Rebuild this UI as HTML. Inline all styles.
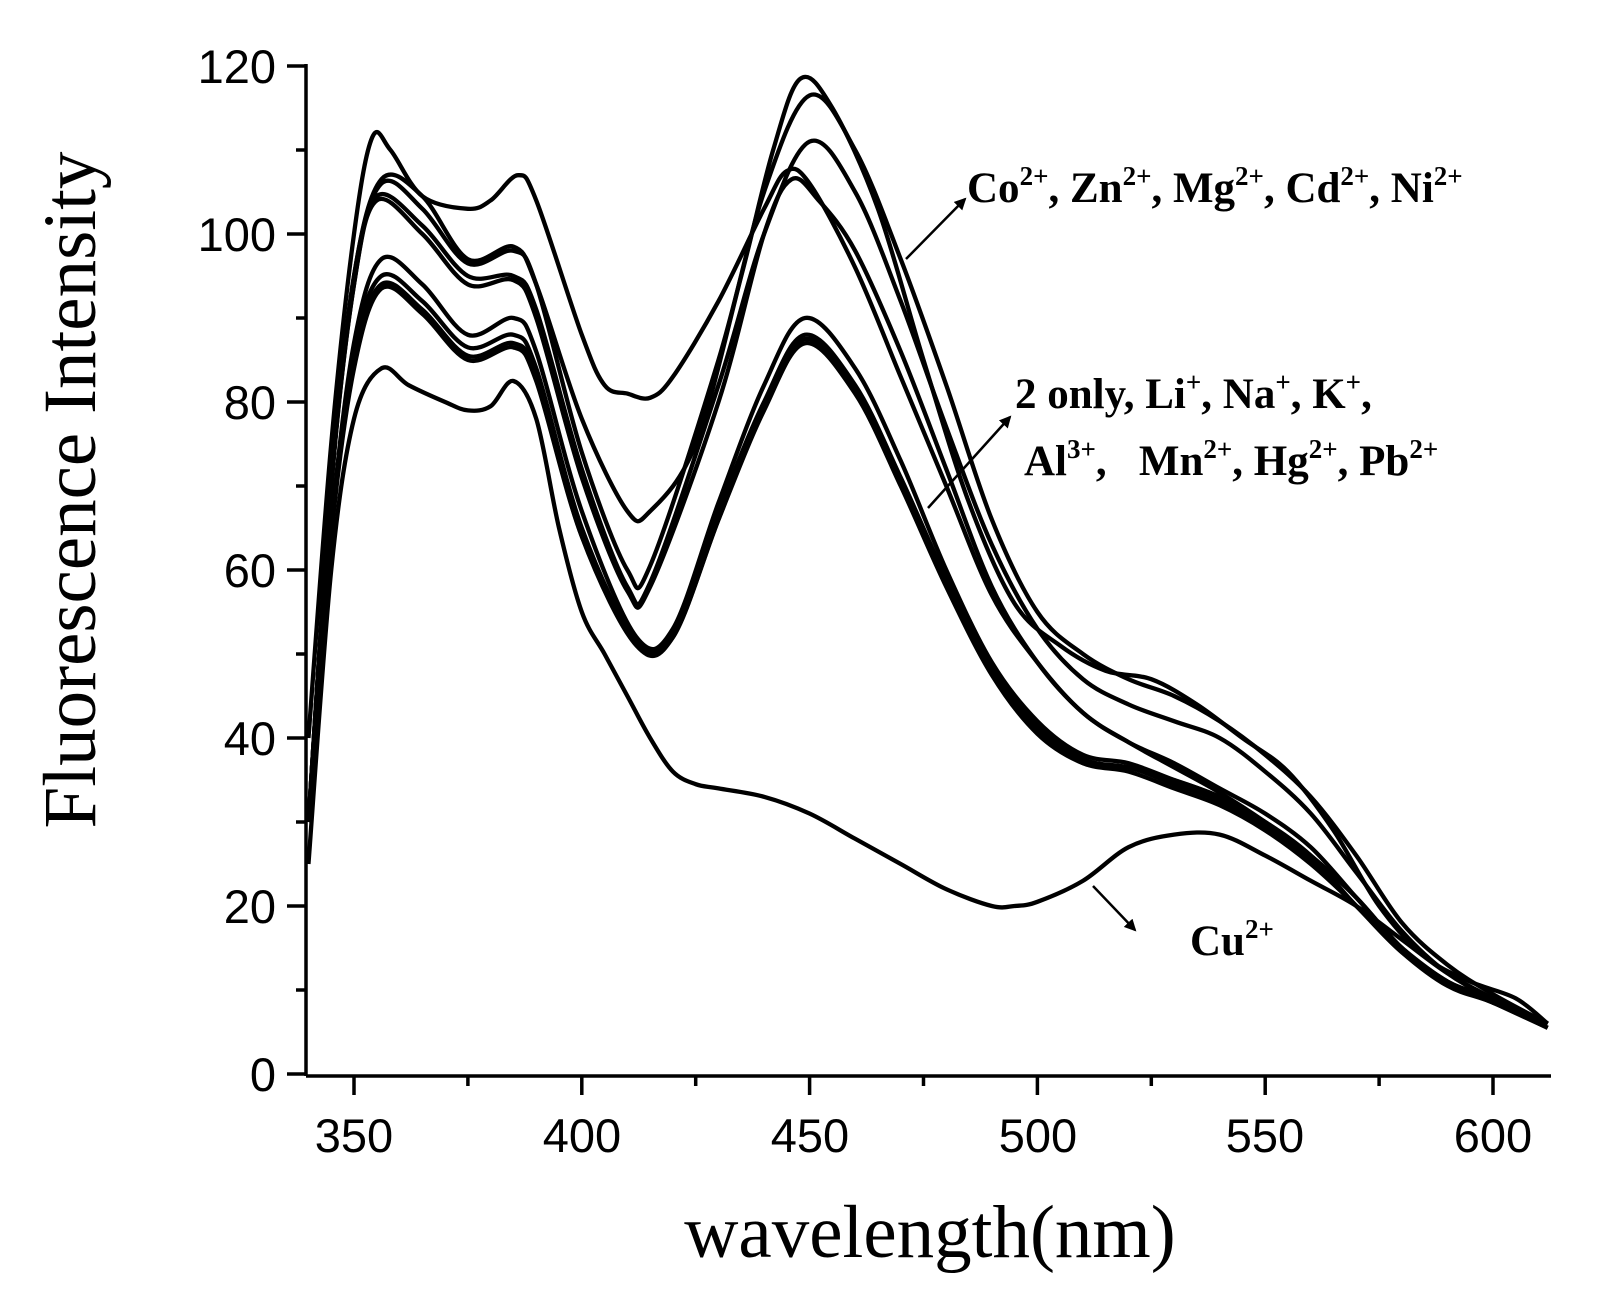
<!DOCTYPE html>
<html><head><meta charset="utf-8"><style>
html,body{margin:0;padding:0;background:#fff;}
svg{display:block;}
.t{font-family:"Liberation Sans",Arial,sans-serif;font-size:47px;fill:#000;}
.a{font-family:"Liberation Serif","Times New Roman",serif;font-weight:bold;font-size:43px;fill:#000;}
.s{font-size:27px;}
</style></head><body>
<svg id="c" width="1612" height="1312" viewBox="0 0 1612 1312" xmlns="http://www.w3.org/2000/svg">
<defs><marker id="ar" markerWidth="12" markerHeight="12" refX="10" refY="6" orient="auto" markerUnits="userSpaceOnUse"><path d="M0,0 L12,6 L0,12 Z" fill="#000"/></marker></defs>
<g id="curves" fill="none" stroke="#000" stroke-width="4.3" stroke-linejoin="round"></g>
<line x1="306" y1="64" x2="306" y2="1076" stroke="#000" stroke-width="3.5"/>
<line x1="306" y1="1076" x2="1551" y2="1076" stroke="#000" stroke-width="3.5"/>
<g id="ticks" stroke="#000" stroke-width="3.5"></g>
<g class="t" text-anchor="end">
<text x="276" y="1091">0</text><text x="276" y="923">20</text><text x="276" y="755">40</text>
<text x="276" y="587">60</text><text x="276" y="419">80</text><text x="276" y="251">100</text><text x="276" y="83">120</text>
</g>
<g class="t" text-anchor="middle">
<text x="354" y="1152">350</text><text x="582" y="1152">400</text><text x="810" y="1152">450</text>
<text x="1038" y="1152">500</text><text x="1265" y="1152">550</text><text x="1493" y="1152">600</text>
</g>
<text x="930" y="1257" text-anchor="middle" style="font-family:'Liberation Serif',serif;font-size:75px">wavelength(nm)</text>
<text transform="translate(95,490) rotate(-90)" text-anchor="middle" style="font-family:'Liberation Serif',serif;font-size:75px">Fluorescence Intensity</text>
<text class="a" x="967" y="202">Co<tspan class="s" dy="-17">2+</tspan><tspan dy="17">, Zn</tspan><tspan class="s" dy="-17">2+</tspan><tspan dy="17">, Mg</tspan><tspan class="s" dy="-17">2+</tspan><tspan dy="17">, Cd</tspan><tspan class="s" dy="-17">2+</tspan><tspan dy="17">, Ni</tspan><tspan class="s" dy="-17">2+</tspan></text>
<text class="a" x="1015" y="408">2 only, Li<tspan class="s" dy="-17">+</tspan><tspan dy="17">, Na</tspan><tspan class="s" dy="-17">+</tspan><tspan dy="17">, K</tspan><tspan class="s" dy="-17">+</tspan><tspan dy="17">,</tspan></text>
<text class="a" x="1024" y="475" xml:space="preserve">Al<tspan class="s" dy="-17">3+</tspan><tspan dy="17">,   Mn</tspan><tspan class="s" dy="-17">2+</tspan><tspan dy="17">, Hg</tspan><tspan class="s" dy="-17">2+</tspan><tspan dy="17">, Pb</tspan><tspan class="s" dy="-17">2+</tspan></text>
<text class="a" x="1190" y="955">Cu<tspan class="s" dy="-17">2+</tspan></text>
<g stroke="#000" stroke-width="2.5" marker-end="url(#ar)">
<line x1="906" y1="259" x2="965" y2="199"/>
<line x1="928" y1="508" x2="1010" y2="417"/>
<line x1="1093" y1="886" x2="1135" y2="930"/>
</g>
</svg>
<script>
var X=function(w){return 354+(w-350)*4.556;}, Y=function(v){return 1074-v*8.4;};
var tk=document.getElementById('ticks'),h='';
for(var v=0;v<=120;v+=10){var L=v%20==0?19:10;h+='<line x1="'+(306-L)+'" y1="'+Y(v)+'" x2="306" y2="'+Y(v)+'"/>';}
for(var w=350;w<=600;w+=25){var L=w%50==0?19:10;h+='<line x1="'+X(w)+'" y1="1076" x2="'+X(w)+'" y2="'+(1076+L)+'"/>';}
tk.innerHTML=h;
var C=[
[340,40,345,75,350,100,354,111.5,358,110,365,104.5,375,103,380,104,386,107,390,104,400,88,405,82,410,81,415,80.5,420,83,430,92,440,103,445,107.5,450,106,460,96,470,83,480,70,490,57,500,49,510,43,520,39.5,530,36.5,540,33.5,550,30,560,26,570,21,580,15,590,11,600,8.5,605,7.5,612,5.5],
[340,30,345,70,350,95,356,106.5,365,104.5,375,97,385,98.5,390,94,400,78,410,67,415,67,425,75,435,95,442,110,448,118.5,455,115,465,103,475,85,485,68,495,56,505,51,515,48,525,47,535,44,545,40,555,36,565,29,575,20,585,14,595,11,605,9,612,6],
[340,30,345,70,350,95,356,106,365,103,375,96.5,385,98,390,94,400,74,410,60,415,60.5,430,85,440,105,450,116.5,460,110,470,97,480,82,490,66,500,55,510,50,520,47,530,45,540,42,550,38,560,33,570,26,580,18,590,13,600,9.5,612,6],
[340,30,345,70,350,94,355,104.5,365,101,375,95,385,95,390,91,400,72,410,58,415,58.5,430,82,440,100,450,111,460,105,470,92,480,77,490,63,500,53,510,47,520,44,530,42,540,40,550,36,560,31,570,24,580,17,590,12,600,9,612,6],
[340,30,345,70,350,94,355,104,365,100,375,94,385,94.5,390,90,400,71,410,57.5,415,58,430,80,440,100,446,106.5,452,104,460,98,470,86,480,72,490,58,500,49,510,43,520,39.5,530,37,540,34,550,31,560,27,570,21,580,15,590,11,600,9,612,6],
[340,30,345,65,350,87,356,97,365,94,375,88,385,90,390,86,400,67,412,52,420,53,430,68,440,82,449,90,460,84,470,73,480,60,490,49,500,42,510,38,520,37,530,35,540,33,550,30,560,26,570,21,580,15,590,11,600,9,612,6],
[340,30,345,65,350,86,356,95,365,92,375,86.5,385,88,390,84,400,65,412,51.5,420,52.5,430,67,440,80,449,88,460,82,470,71,480,59,490,48.5,500,41.5,510,37.5,520,36.5,530,35,540,33,550,30,560,26,570,20,580,15,590,11,600,8.5,612,6],
[340,30,345,65,350,85,356,94,365,91,375,85.5,385,87,390,83,400,64,412,51,420,52,430,66,440,79.5,449,87.5,460,81.5,470,70.5,480,58.5,490,48,500,41,510,37,520,36.5,530,34.5,540,32.5,550,29.5,560,25.5,570,20,580,14.5,590,11,600,8.5,612,5.5],
[340,30,345,64,350,84,356,93.5,365,90.5,375,85,385,86.5,390,82.5,400,64,412,51.5,420,52,430,66,440,79,449,87,460,81,470,70,480,58,490,47.5,500,40.5,510,37,520,36,530,34,540,32,550,29,560,25,570,20,580,14.5,590,10.5,600,8.5,612,5.5],
[340,25,345,60,350,78,356,84,362,82,370,80,375,79,380,79.5,385,82.5,390,78,395,65,400,55,405,50,410,45,415,40,420,36,425,34.5,430,34,440,33,450,31,460,28,470,25,480,22,490,20,495,20,500,20.5,510,23,520,27,530,28.5,540,28.5,550,26,560,23,570,20,580,16,590,12,600,9,612,6]];
var g=document.getElementById('curves'),o='';
C.forEach(function(a){var p=[];for(var i=0;i<a.length;i+=2)p.push([X(a[i]),Y(a[i+1])]);
var d='M'+p[0][0]+','+p[0][1];
for(var i=0;i<p.length-1;i++){var p0=p[i-1]||p[i],p1=p[i],p2=p[i+1],p3=p[i+2]||p2;
d+=' C'+(p1[0]+(p2[0]-p0[0])/6)+','+(p1[1]+(p2[1]-p0[1])/6)+' '+(p2[0]-(p3[0]-p1[0])/6)+','+(p2[1]-(p3[1]-p1[1])/6)+' '+p2[0]+','+p2[1];}
o+='<path d="'+d+'"/>';});
g.innerHTML=o;
</script>
</body></html>
